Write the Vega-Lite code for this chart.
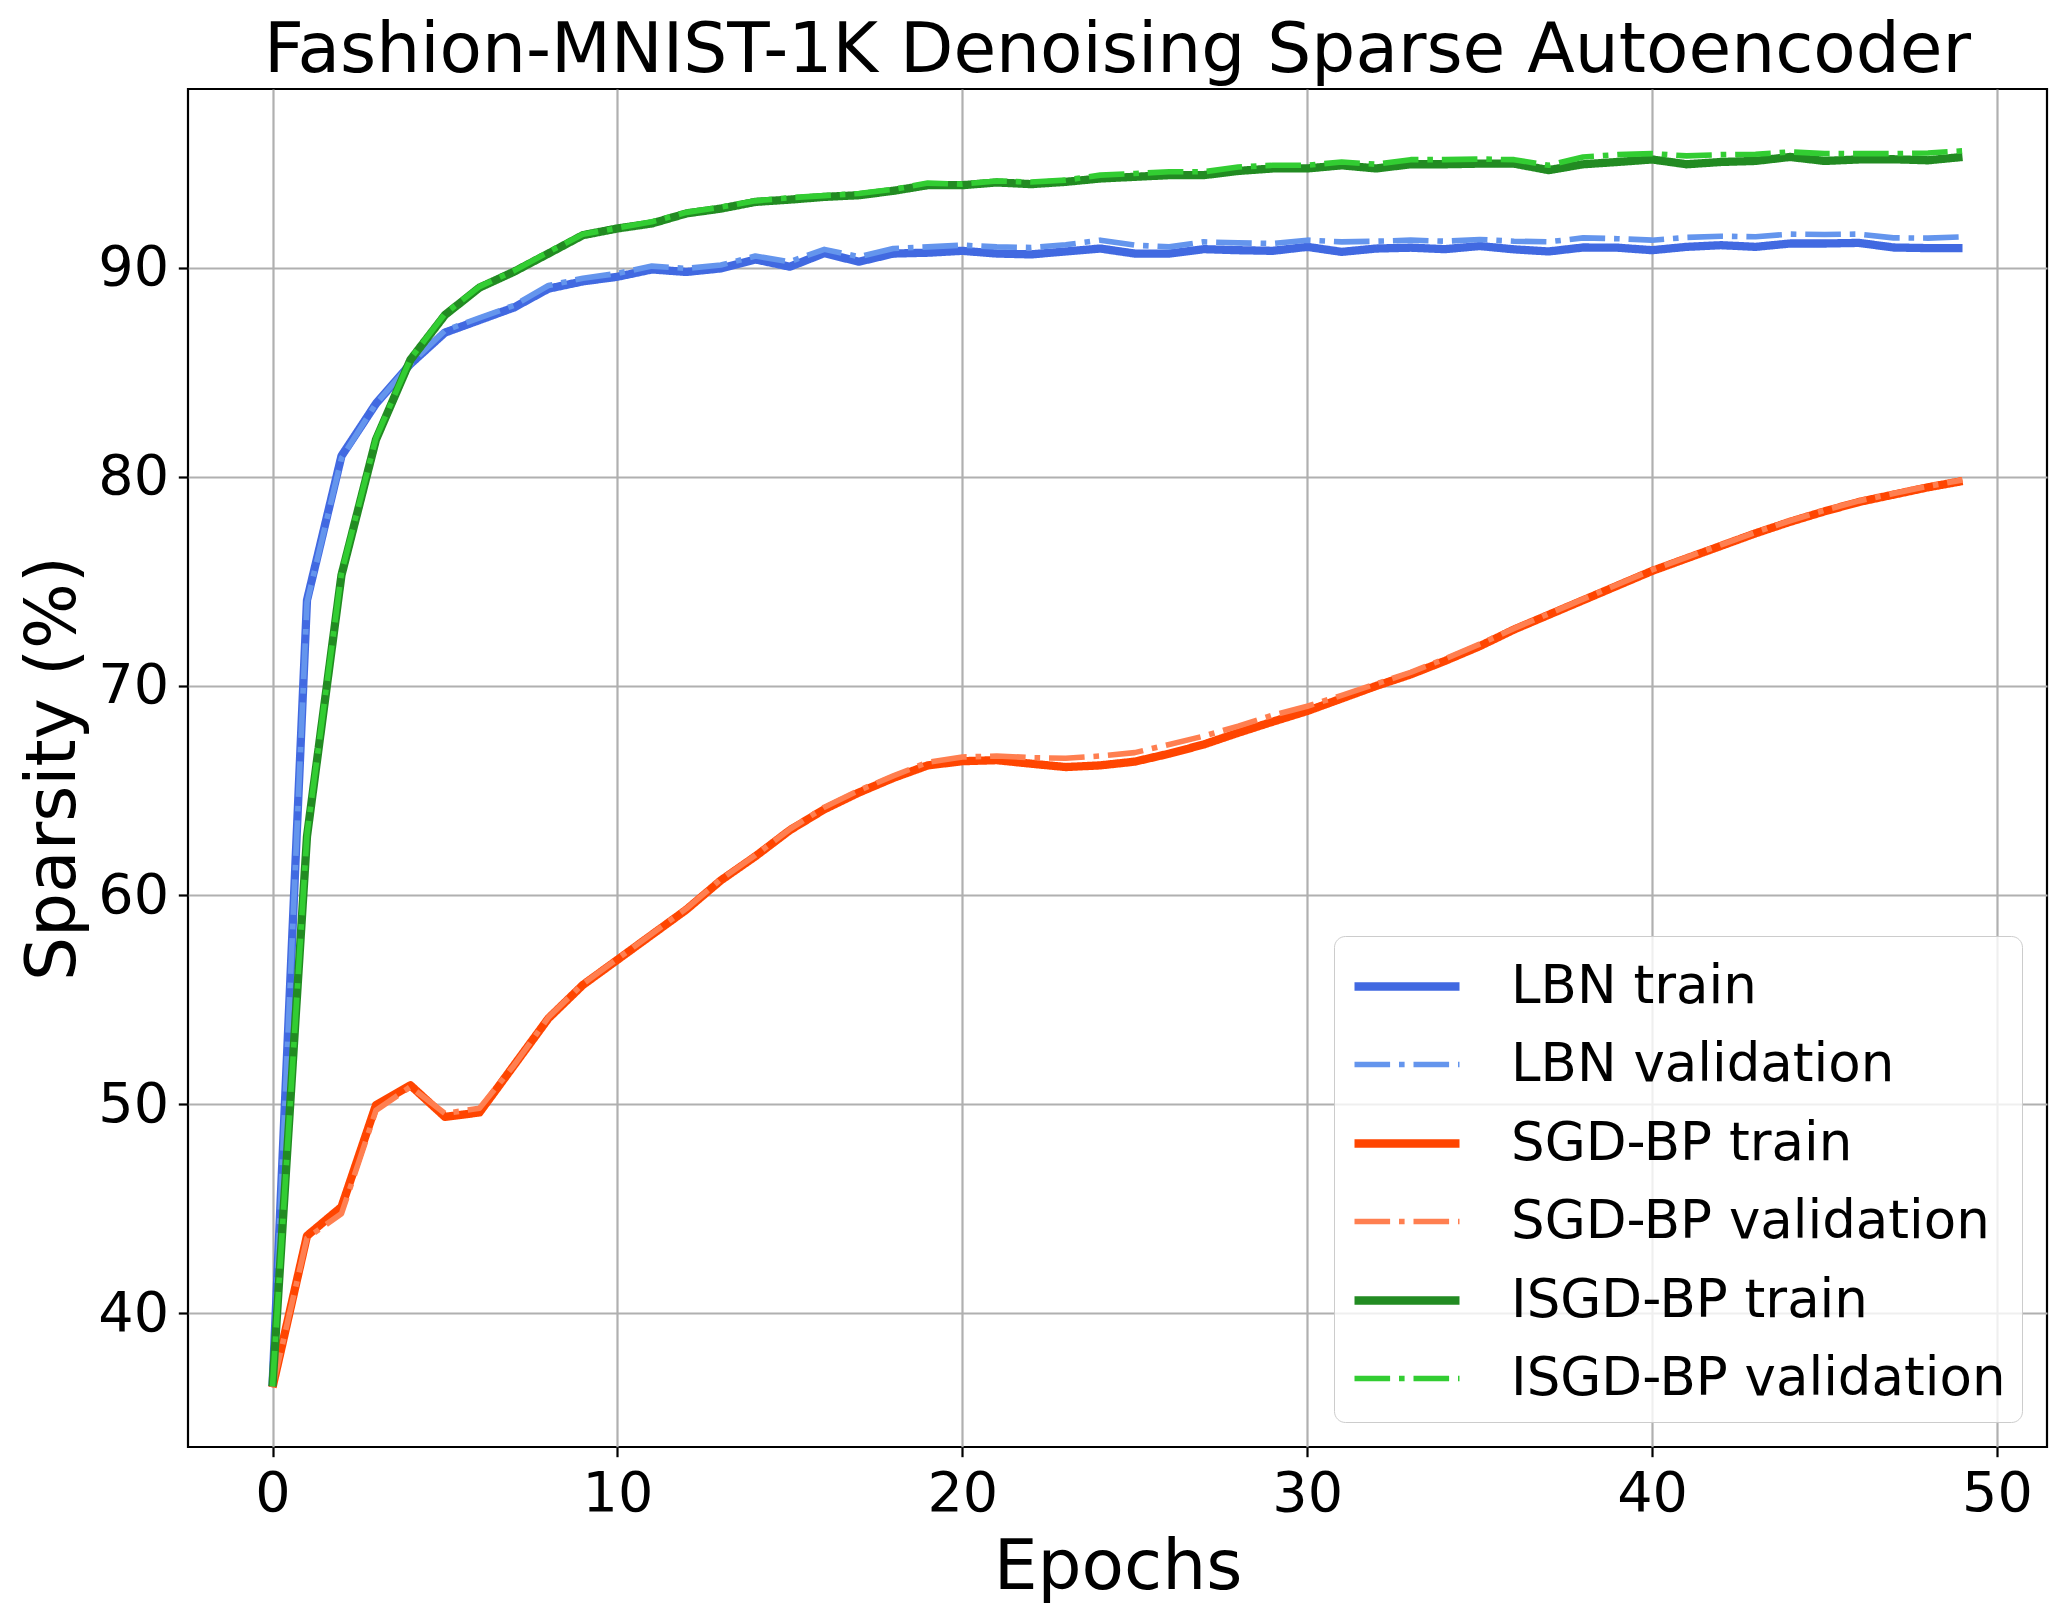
{
"$schema": "https://vega.github.io/schema/vega-lite/v6.json",
"width": 1859, "height": 1358,
"autosize": {"type": "none"},
"padding": {"left": 188, "top": 89, "right": 21, "bottom": 173},
"background": "white",
"title": {"text": "Fashion-MNIST-1K Denoising Sparse Autoencoder", "font": "DejaVu Sans", "fontSize": 69.4, "fontWeight": "normal", "color": "black", "anchor": "middle", "offset": 3},
"config": {
  "view": {"stroke": "black", "strokeWidth": 2.2},
  "axis": {"domain": false, "grid": true, "gridColor": "#b0b0b0", "gridWidth": 2.2, "tickColor": "black", "tickWidth": 2.2, "tickSize": 9.7, "labelPadding": 9.7, "labelFont": "DejaVu Sans", "labelFontSize": 55.6, "labelColor": "black", "labelFlush": false, "labelOverlap": false, "titleFont": "DejaVu Sans", "titleFontSize": 69.4, "titleFontWeight": "normal", "titleColor": "black"}
},
"data": {"values": [
{"epoch":0,"series":"LBN train","value":36.5},{"epoch":1,"series":"LBN train","value":74.1},{"epoch":2,"series":"LBN train","value":81.0},{"epoch":3,"series":"LBN train","value":83.5},{"epoch":4,"series":"LBN train","value":85.4},{"epoch":5,"series":"LBN train","value":86.9},{"epoch":6,"series":"LBN train","value":87.5},{"epoch":7,"series":"LBN train","value":88.1},{"epoch":8,"series":"LBN train","value":89.0},{"epoch":9,"series":"LBN train","value":89.35},
{"epoch":10,"series":"LBN train","value":89.57},{"epoch":11,"series":"LBN train","value":89.92},{"epoch":12,"series":"LBN train","value":89.8},{"epoch":13,"series":"LBN train","value":89.97},{"epoch":14,"series":"LBN train","value":90.4},{"epoch":15,"series":"LBN train","value":90.05},{"epoch":16,"series":"LBN train","value":90.7},{"epoch":17,"series":"LBN train","value":90.29},{"epoch":18,"series":"LBN train","value":90.68},{"epoch":19,"series":"LBN train","value":90.72},
{"epoch":20,"series":"LBN train","value":90.81},{"epoch":21,"series":"LBN train","value":90.68},{"epoch":22,"series":"LBN train","value":90.64},{"epoch":23,"series":"LBN train","value":90.78},{"epoch":24,"series":"LBN train","value":90.92},{"epoch":25,"series":"LBN train","value":90.68},{"epoch":26,"series":"LBN train","value":90.68},{"epoch":27,"series":"LBN train","value":90.89},{"epoch":28,"series":"LBN train","value":90.84},{"epoch":29,"series":"LBN train","value":90.81},
{"epoch":30,"series":"LBN train","value":91.0},{"epoch":31,"series":"LBN train","value":90.76},{"epoch":32,"series":"LBN train","value":90.92},{"epoch":33,"series":"LBN train","value":90.96},{"epoch":34,"series":"LBN train","value":90.89},{"epoch":35,"series":"LBN train","value":91.04},{"epoch":36,"series":"LBN train","value":90.88},{"epoch":37,"series":"LBN train","value":90.78},{"epoch":38,"series":"LBN train","value":90.97},{"epoch":39,"series":"LBN train","value":90.96},
{"epoch":40,"series":"LBN train","value":90.84},{"epoch":41,"series":"LBN train","value":91.0},{"epoch":42,"series":"LBN train","value":91.08},{"epoch":43,"series":"LBN train","value":91.0},{"epoch":44,"series":"LBN train","value":91.16},{"epoch":45,"series":"LBN train","value":91.16},{"epoch":46,"series":"LBN train","value":91.19},{"epoch":47,"series":"LBN train","value":90.97},{"epoch":48,"series":"LBN train","value":90.94},{"epoch":49,"series":"LBN train","value":90.94},
{"epoch":0,"series":"LBN validation","value":36.5},{"epoch":1,"series":"LBN validation","value":74.0},{"epoch":2,"series":"LBN validation","value":80.9},{"epoch":3,"series":"LBN validation","value":83.5},{"epoch":4,"series":"LBN validation","value":85.4},{"epoch":5,"series":"LBN validation","value":87.0},{"epoch":6,"series":"LBN validation","value":87.6},{"epoch":7,"series":"LBN validation","value":88.2},{"epoch":8,"series":"LBN validation","value":89.15},{"epoch":9,"series":"LBN validation","value":89.5},
{"epoch":10,"series":"LBN validation","value":89.73},{"epoch":11,"series":"LBN validation","value":90.08},{"epoch":12,"series":"LBN validation","value":89.97},{"epoch":13,"series":"LBN validation","value":90.13},{"epoch":14,"series":"LBN validation","value":90.56},{"epoch":15,"series":"LBN validation","value":90.29},{"epoch":16,"series":"LBN validation","value":90.88},{"epoch":17,"series":"LBN validation","value":90.53},{"epoch":18,"series":"LBN validation","value":90.92},{"epoch":19,"series":"LBN validation","value":91.0},
{"epoch":20,"series":"LBN validation","value":91.08},{"epoch":21,"series":"LBN validation","value":91.0},{"epoch":22,"series":"LBN validation","value":90.97},{"epoch":23,"series":"LBN validation","value":91.1},{"epoch":24,"series":"LBN validation","value":91.32},{"epoch":25,"series":"LBN validation","value":91.08},{"epoch":26,"series":"LBN validation","value":91.0},{"epoch":27,"series":"LBN validation","value":91.24},{"epoch":28,"series":"LBN validation","value":91.19},{"epoch":29,"series":"LBN validation","value":91.16},
{"epoch":30,"series":"LBN validation","value":91.32},{"epoch":31,"series":"LBN validation","value":91.24},{"epoch":32,"series":"LBN validation","value":91.27},{"epoch":33,"series":"LBN validation","value":91.32},{"epoch":34,"series":"LBN validation","value":91.27},{"epoch":35,"series":"LBN validation","value":91.35},{"epoch":36,"series":"LBN validation","value":91.27},{"epoch":37,"series":"LBN validation","value":91.24},{"epoch":38,"series":"LBN validation","value":91.43},{"epoch":39,"series":"LBN validation","value":91.39},
{"epoch":40,"series":"LBN validation","value":91.32},{"epoch":41,"series":"LBN validation","value":91.45},{"epoch":42,"series":"LBN validation","value":91.51},{"epoch":43,"series":"LBN validation","value":91.48},{"epoch":44,"series":"LBN validation","value":91.61},{"epoch":45,"series":"LBN validation","value":91.59},{"epoch":46,"series":"LBN validation","value":91.61},{"epoch":47,"series":"LBN validation","value":91.43},{"epoch":48,"series":"LBN validation","value":91.42},{"epoch":49,"series":"LBN validation","value":91.48},
{"epoch":0,"series":"SGD-BP train","value":36.45},{"epoch":1,"series":"SGD-BP train","value":43.7},{"epoch":2,"series":"SGD-BP train","value":45.08},{"epoch":3,"series":"SGD-BP train","value":49.95},{"epoch":4,"series":"SGD-BP train","value":50.9},{"epoch":5,"series":"SGD-BP train","value":49.39},{"epoch":6,"series":"SGD-BP train","value":49.6},{"epoch":7,"series":"SGD-BP train","value":51.85},{"epoch":8,"series":"SGD-BP train","value":54.1},{"epoch":9,"series":"SGD-BP train","value":55.7},
{"epoch":10,"series":"SGD-BP train","value":56.9},{"epoch":11,"series":"SGD-BP train","value":58.1},{"epoch":12,"series":"SGD-BP train","value":59.3},{"epoch":13,"series":"SGD-BP train","value":60.7},{"epoch":14,"series":"SGD-BP train","value":61.85},{"epoch":15,"series":"SGD-BP train","value":63.1},{"epoch":16,"series":"SGD-BP train","value":64.1},{"epoch":17,"series":"SGD-BP train","value":64.9},{"epoch":18,"series":"SGD-BP train","value":65.6},{"epoch":19,"series":"SGD-BP train","value":66.2},
{"epoch":20,"series":"SGD-BP train","value":66.4},{"epoch":21,"series":"SGD-BP train","value":66.45},{"epoch":22,"series":"SGD-BP train","value":66.28},{"epoch":23,"series":"SGD-BP train","value":66.12},{"epoch":24,"series":"SGD-BP train","value":66.2},{"epoch":25,"series":"SGD-BP train","value":66.38},{"epoch":26,"series":"SGD-BP train","value":66.76},{"epoch":27,"series":"SGD-BP train","value":67.2},{"epoch":28,"series":"SGD-BP train","value":67.76},{"epoch":29,"series":"SGD-BP train","value":68.29},
{"epoch":30,"series":"SGD-BP train","value":68.8},{"epoch":31,"series":"SGD-BP train","value":69.4},{"epoch":32,"series":"SGD-BP train","value":70.0},{"epoch":33,"series":"SGD-BP train","value":70.55},{"epoch":34,"series":"SGD-BP train","value":71.2},{"epoch":35,"series":"SGD-BP train","value":71.9},{"epoch":36,"series":"SGD-BP train","value":72.7},{"epoch":37,"series":"SGD-BP train","value":73.4},{"epoch":38,"series":"SGD-BP train","value":74.1},{"epoch":39,"series":"SGD-BP train","value":74.8},
{"epoch":40,"series":"SGD-BP train","value":75.5},{"epoch":41,"series":"SGD-BP train","value":76.1},{"epoch":42,"series":"SGD-BP train","value":76.7},{"epoch":43,"series":"SGD-BP train","value":77.3},{"epoch":44,"series":"SGD-BP train","value":77.85},{"epoch":45,"series":"SGD-BP train","value":78.35},{"epoch":46,"series":"SGD-BP train","value":78.8},{"epoch":47,"series":"SGD-BP train","value":79.15},{"epoch":48,"series":"SGD-BP train","value":79.5},{"epoch":49,"series":"SGD-BP train","value":79.8},
{"epoch":0,"series":"SGD-BP validation","value":36.45},{"epoch":1,"series":"SGD-BP validation","value":43.6},{"epoch":2,"series":"SGD-BP validation","value":44.76},{"epoch":3,"series":"SGD-BP validation","value":49.7},{"epoch":4,"series":"SGD-BP validation","value":50.83},{"epoch":5,"series":"SGD-BP validation","value":49.55},{"epoch":6,"series":"SGD-BP validation","value":49.8},{"epoch":7,"series":"SGD-BP validation","value":51.85},{"epoch":8,"series":"SGD-BP validation","value":54.15},{"epoch":9,"series":"SGD-BP validation","value":55.75},
{"epoch":10,"series":"SGD-BP validation","value":56.95},{"epoch":11,"series":"SGD-BP validation","value":58.15},{"epoch":12,"series":"SGD-BP validation","value":59.35},{"epoch":13,"series":"SGD-BP validation","value":60.75},{"epoch":14,"series":"SGD-BP validation","value":61.9},{"epoch":15,"series":"SGD-BP validation","value":63.15},{"epoch":16,"series":"SGD-BP validation","value":64.2},{"epoch":17,"series":"SGD-BP validation","value":65.0},{"epoch":18,"series":"SGD-BP validation","value":65.7},{"epoch":19,"series":"SGD-BP validation","value":66.35},
{"epoch":20,"series":"SGD-BP validation","value":66.6},{"epoch":21,"series":"SGD-BP validation","value":66.65},{"epoch":22,"series":"SGD-BP validation","value":66.57},{"epoch":23,"series":"SGD-BP validation","value":66.54},{"epoch":24,"series":"SGD-BP validation","value":66.65},{"epoch":25,"series":"SGD-BP validation","value":66.81},{"epoch":26,"series":"SGD-BP validation","value":67.2},{"epoch":27,"series":"SGD-BP validation","value":67.6},{"epoch":28,"series":"SGD-BP validation","value":68.08},{"epoch":29,"series":"SGD-BP validation","value":68.6},
{"epoch":30,"series":"SGD-BP validation","value":69.03},{"epoch":31,"series":"SGD-BP validation","value":69.55},{"epoch":32,"series":"SGD-BP validation","value":70.1},{"epoch":33,"series":"SGD-BP validation","value":70.65},{"epoch":34,"series":"SGD-BP validation","value":71.3},{"epoch":35,"series":"SGD-BP validation","value":72.0},{"epoch":36,"series":"SGD-BP validation","value":72.75},{"epoch":37,"series":"SGD-BP validation","value":73.45},{"epoch":38,"series":"SGD-BP validation","value":74.15},{"epoch":39,"series":"SGD-BP validation","value":74.85},
{"epoch":40,"series":"SGD-BP validation","value":75.55},{"epoch":41,"series":"SGD-BP validation","value":76.15},{"epoch":42,"series":"SGD-BP validation","value":76.75},{"epoch":43,"series":"SGD-BP validation","value":77.35},{"epoch":44,"series":"SGD-BP validation","value":77.9},{"epoch":45,"series":"SGD-BP validation","value":78.4},{"epoch":46,"series":"SGD-BP validation","value":78.85},{"epoch":47,"series":"SGD-BP validation","value":79.2},{"epoch":48,"series":"SGD-BP validation","value":79.55},{"epoch":49,"series":"SGD-BP validation","value":79.85},
{"epoch":0,"series":"ISGD-BP train","value":36.5},{"epoch":1,"series":"ISGD-BP train","value":62.8},{"epoch":2,"series":"ISGD-BP train","value":75.3},{"epoch":3,"series":"ISGD-BP train","value":81.78},{"epoch":4,"series":"ISGD-BP train","value":85.6},{"epoch":5,"series":"ISGD-BP train","value":87.74},{"epoch":6,"series":"ISGD-BP train","value":89.05},{"epoch":7,"series":"ISGD-BP train","value":89.81},{"epoch":8,"series":"ISGD-BP train","value":90.68},{"epoch":9,"series":"ISGD-BP train","value":91.56},
{"epoch":10,"series":"ISGD-BP train","value":91.88},{"epoch":11,"series":"ISGD-BP train","value":92.12},{"epoch":12,"series":"ISGD-BP train","value":92.6},{"epoch":13,"series":"ISGD-BP train","value":92.83},{"epoch":14,"series":"ISGD-BP train","value":93.15},{"epoch":15,"series":"ISGD-BP train","value":93.26},{"epoch":16,"series":"ISGD-BP train","value":93.39},{"epoch":17,"series":"ISGD-BP train","value":93.47},{"epoch":18,"series":"ISGD-BP train","value":93.68},{"epoch":19,"series":"ISGD-BP train","value":93.95},
{"epoch":20,"series":"ISGD-BP train","value":93.95},{"epoch":21,"series":"ISGD-BP train","value":94.08},{"epoch":22,"series":"ISGD-BP train","value":94.0},{"epoch":23,"series":"ISGD-BP train","value":94.11},{"epoch":24,"series":"ISGD-BP train","value":94.27},{"epoch":25,"series":"ISGD-BP train","value":94.35},{"epoch":26,"series":"ISGD-BP train","value":94.43},{"epoch":27,"series":"ISGD-BP train","value":94.43},{"epoch":28,"series":"ISGD-BP train","value":94.63},{"epoch":29,"series":"ISGD-BP train","value":94.75},
{"epoch":30,"series":"ISGD-BP train","value":94.75},{"epoch":31,"series":"ISGD-BP train","value":94.9},{"epoch":32,"series":"ISGD-BP train","value":94.75},{"epoch":33,"series":"ISGD-BP train","value":94.95},{"epoch":34,"series":"ISGD-BP train","value":94.95},{"epoch":35,"series":"ISGD-BP train","value":94.98},{"epoch":36,"series":"ISGD-BP train","value":94.98},{"epoch":37,"series":"ISGD-BP train","value":94.67},{"epoch":38,"series":"ISGD-BP train","value":94.95},{"epoch":39,"series":"ISGD-BP train","value":95.06},
{"epoch":40,"series":"ISGD-BP train","value":95.18},{"epoch":41,"series":"ISGD-BP train","value":94.95},{"epoch":42,"series":"ISGD-BP train","value":95.06},{"epoch":43,"series":"ISGD-BP train","value":95.11},{"epoch":44,"series":"ISGD-BP train","value":95.3},{"epoch":45,"series":"ISGD-BP train","value":95.11},{"epoch":46,"series":"ISGD-BP train","value":95.18},{"epoch":47,"series":"ISGD-BP train","value":95.19},{"epoch":48,"series":"ISGD-BP train","value":95.14},{"epoch":49,"series":"ISGD-BP train","value":95.3},
{"epoch":0,"series":"ISGD-BP validation","value":36.5},{"epoch":1,"series":"ISGD-BP validation","value":62.9},{"epoch":2,"series":"ISGD-BP validation","value":75.4},{"epoch":3,"series":"ISGD-BP validation","value":81.85},{"epoch":4,"series":"ISGD-BP validation","value":85.65},{"epoch":5,"series":"ISGD-BP validation","value":87.8},{"epoch":6,"series":"ISGD-BP validation","value":89.1},{"epoch":7,"series":"ISGD-BP validation","value":89.85},{"epoch":8,"series":"ISGD-BP validation","value":90.75},{"epoch":9,"series":"ISGD-BP validation","value":91.6},
{"epoch":10,"series":"ISGD-BP validation","value":91.9},{"epoch":11,"series":"ISGD-BP validation","value":92.2},{"epoch":12,"series":"ISGD-BP validation","value":92.65},{"epoch":13,"series":"ISGD-BP validation","value":92.9},{"epoch":14,"series":"ISGD-BP validation","value":93.2},{"epoch":15,"series":"ISGD-BP validation","value":93.35},{"epoch":16,"series":"ISGD-BP validation","value":93.45},{"epoch":17,"series":"ISGD-BP validation","value":93.55},{"epoch":18,"series":"ISGD-BP validation","value":93.75},{"epoch":19,"series":"ISGD-BP validation","value":94.05},
{"epoch":20,"series":"ISGD-BP validation","value":94.0},{"epoch":21,"series":"ISGD-BP validation","value":94.15},{"epoch":22,"series":"ISGD-BP validation","value":94.1},{"epoch":23,"series":"ISGD-BP validation","value":94.19},{"epoch":24,"series":"ISGD-BP validation","value":94.43},{"epoch":25,"series":"ISGD-BP validation","value":94.51},{"epoch":26,"series":"ISGD-BP validation","value":94.59},{"epoch":27,"series":"ISGD-BP validation","value":94.59},{"epoch":28,"series":"ISGD-BP validation","value":94.82},{"epoch":29,"series":"ISGD-BP validation","value":94.9},
{"epoch":30,"series":"ISGD-BP validation","value":94.9},{"epoch":31,"series":"ISGD-BP validation","value":95.06},{"epoch":32,"series":"ISGD-BP validation","value":94.95},{"epoch":33,"series":"ISGD-BP validation","value":95.17},{"epoch":34,"series":"ISGD-BP validation","value":95.17},{"epoch":35,"series":"ISGD-BP validation","value":95.2},{"epoch":36,"series":"ISGD-BP validation","value":95.17},{"epoch":37,"series":"ISGD-BP validation","value":94.9},{"epoch":38,"series":"ISGD-BP validation","value":95.3},{"epoch":39,"series":"ISGD-BP validation","value":95.41},
{"epoch":40,"series":"ISGD-BP validation","value":95.46},{"epoch":41,"series":"ISGD-BP validation","value":95.35},{"epoch":42,"series":"ISGD-BP validation","value":95.41},{"epoch":43,"series":"ISGD-BP validation","value":95.43},{"epoch":44,"series":"ISGD-BP validation","value":95.54},{"epoch":45,"series":"ISGD-BP validation","value":95.46},{"epoch":46,"series":"ISGD-BP validation","value":95.46},{"epoch":47,"series":"ISGD-BP validation","value":95.46},{"epoch":48,"series":"ISGD-BP validation","value":95.49},{"epoch":49,"series":"ISGD-BP validation","value":95.59}
]},
"mark": {"type": "line", "strokeJoin": "round", "strokeCap": "butt"},
"encoding": {
  "x": {"field": "epoch", "type": "quantitative", "scale": {"domain": [-2.45, 51.45], "nice": false, "zero": false}, "axis": {"values": [0, 10, 20, 30, 40, 50], "title": "Epochs", "titlePadding": 11}},
  "y": {"field": "value", "type": "quantitative", "scale": {"domain": [33.6, 98.55], "nice": false, "zero": false}, "axis": {"values": [40, 50, 60, 70, 80, 90], "title": "Sparsity (%)", "titlePadding": 8}},
  "color": {"field": "series", "type": "nominal",
    "scale": {"domain": ["LBN train", "LBN validation", "SGD-BP train", "SGD-BP validation", "ISGD-BP train", "ISGD-BP validation"], "range": ["#4169E1", "#6495ED", "#FF4500", "#FF7F50", "#228B22", "#32CD32"]},
    "legend": {"title": null, "orient": "bottom-right", "offset": 25, "labelFont": "DejaVu Sans", "labelFontSize": 53, "labelColor": "black", "labelLimit": 2000, "labelOffset": 92, "symbolType": "M-1,0H2.5", "symbolSize": 3600, "rowPadding": 17.5, "padding": 16, "fillColor": "rgba(255,255,255,0.8)", "strokeColor": "#cccccc", "cornerRadius": 11}},
  "strokeDash": {"field": "series", "type": "nominal",
    "scale": {"domain": ["LBN train", "LBN validation", "SGD-BP train", "SGD-BP validation", "ISGD-BP train", "ISGD-BP validation"], "range": [[1, 0], [35.6, 8.9, 5.6, 8.9], [1, 0], [35.6, 8.9, 5.6, 8.9], [1, 0], [35.6, 8.9, 5.6, 8.9]]}},
  "strokeWidth": {"field": "series", "type": "nominal",
    "scale": {"type": "ordinal", "domain": ["LBN train", "LBN validation", "SGD-BP train", "SGD-BP validation", "ISGD-BP train", "ISGD-BP validation"], "range": [8.3, 5.6, 8.3, 5.6, 8.3, 5.6]}}
}
}
